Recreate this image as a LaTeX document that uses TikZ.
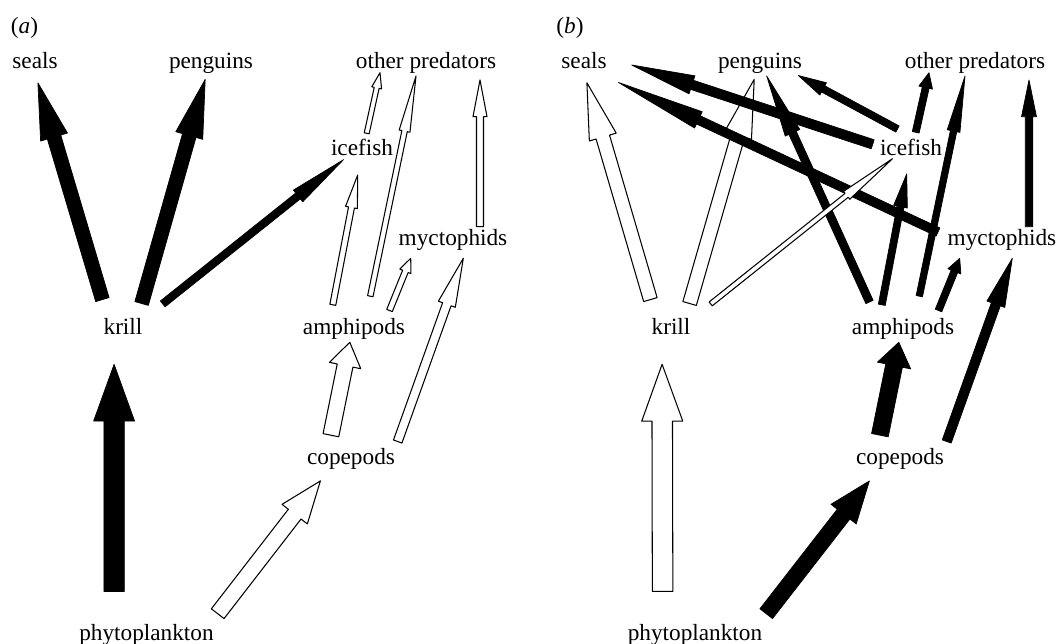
\documentclass[tikz,border=0pt]{standalone}
\usepackage{fontspec}
\setmainfont{Liberation Serif}
\usetikzlibrary{calc}

\begin{document}
\begin{tikzpicture}[x=0.43pt,y=-0.43pt]
\tikzset{species/.style={anchor=base,inner sep=0pt},
flow/.style={to path={let \p1=(\tikztostart), \p2=(\tikztotarget),
  \n1={atan2(\y2-\y1,\x2-\x1)}, \n2={0.75*veclen(\x2-\x1,\y2-\y1)},
  \n3={#1*0.215pt} in
  (\p1) -- ++(\n1+90:\n3) -- ++(\n1:\n2) -- ++(\n1+90:\n3) -- (\p2)
  -- ($(\p1)+(\n1:\n2)+(\n1-90:2*\n3)$) -- ++(\n1+90:\n3)
  -- ($(\p1)+(\n1-90:\n3)$) -- cycle}},
strong/.style={flow=#1,fill=black,draw=black,line width=0.3pt,line join=round},
weak/.style={flow=#1,fill=white,draw=black,line width=0.45pt,line join=round}}
\useasboundingbox (0,0) rectangle (1060,644);

\node[species] (tagA) at (24.5,34) {(\textit{a})};
\node[species] (sealsA) at (35,69) {seals};
\node[species] (penguinsA) at (211,69) {penguins};
\node[species] (otherA) at (426,69) {other predators};
\node[species] (icefishA) at (362,156) {icefish};
\node[species] (myctophidsA) at (453,246) {myctophids};
\node[species] (krillA) at (123,334) {krill};
\node[species] (amphipodsA) at (354,334) {amphipods};
\node[species] (copepodsA) at (351,464) {copepods};
\node[species] (phytoA) at (146.5,640) {phytoplankton};

\draw[strong=14] ($(krillA.base)+(-20.6,-34.4)$) to ($(sealsA.base)+(2.9,13.8)$);
\draw[strong=14] ($(krillA.base)+(18.6,-30.5)$) to ($(penguinsA.base)+(-5.8,10.4)$);
\draw[strong=7.5] ($(krillA.base)+(39.7,-30.1)$) to ($(icefishA.base)+(-18.5,3.7)$);
\draw[strong=20.5] ($(phytoA.base)+(-32.4,-48.6)$) to ($(krillA.base)+(-8.9,30.3)$);
\draw[weak=16] ($(phytoA.base)+(71.2,-26.3)$) to ($(copepodsA.base)+(-30.6,16.9)$);
\draw[weak=16] ($(copepodsA.base)+(-20.1,-28.8)$) to ($(amphipodsA.base)+(-4.2,8.3)$);
\draw[weak=9] ($(copepodsA.base)+(46.7,-22.5)$) to ($(myctophidsA.base)+(10.3,12.3)$);
\draw[weak=6] ($(amphipodsA.base)+(-21.2,-29.2)$) to ($(icefishA.base)+(-4.3,19)$);
\draw[weak=5.5] ($(amphipodsA.base)+(16.3,-37.8)$) to ($(otherA.base)+(-10,7)$);
\draw[weak=6] ($(amphipodsA.base)+(35.5,-23.5)$) to ($(myctophidsA.base)+(-42.3,12.3)$);
\draw[weak=5] ($(icefishA.base)+(4.7,-22.7)$) to ($(otherA.base)+(-46,3.7)$);
\draw[weak=7] ($(myctophidsA.base)+(27,-19.3)$) to ($(otherA.base)+(54,11)$);

\node[species] (tagB) at (570,34) {(\textit{b})};
\node[species] (sealsB) at (584,69) {seals};
\node[species] (penguinsB) at (760,69) {penguins};
\node[species] (otherB) at (975,69) {other predators};
\node[species] (icefishB) at (911,155) {icefish};
\node[species] (myctophidsB) at (1002,246) {myctophids};
\node[species] (krillB) at (671,334) {krill};
\node[species] (amphipodsB) at (903,334) {amphipods};
\node[species] (copepodsB) at (900,464) {copepods};
\node[species] (phytoB) at (695,640) {phytoplankton};

\draw[weak=14] ($(krillB.base)+(-20.6,-34.4)$) to ($(sealsB.base)+(2.9,13.8)$);
\draw[weak=14] ($(krillB.base)+(18.6,-30.5)$) to ($(penguinsB.base)+(-5.8,10.4)$);
\draw[weak=20.5] ($(phytoB.base)+(-32.4,-48.6)$) to ($(krillB.base)+(-8.9,30.3)$);
\draw[strong=16] ($(phytoB.base)+(71.2,-26.3)$) to ($(copepodsB.base)+(-30.6,16.9)$);
\draw[strong=17] ($(copepodsB.base)+(-20.1,-28.8)$) to ($(amphipodsB.base)+(-4.2,8.3)$);
\draw[strong=9.5] ($(copepodsB.base)+(46.7,-22.5)$) to ($(myctophidsB.base)+(10.3,12.3)$);
\draw[strong=9.5] ($(icefishB.base)+(-38.3,-10.7)$) to ($(sealsB.base)+(47.7,-4)$);
\draw[strong=9] ($(myctophidsB.base)+(-64,-14)$) to ($(sealsB.base)+(34.5,13.5)$);
\draw[strong=7] ($(icefishB.base)+(-13.5,-26)$) to ($(penguinsB.base)+(38.3,6.5)$);
\draw[strong=8] ($(amphipodsB.base)+(-33.5,-32)$) to ($(penguinsB.base)+(6.7,7)$);
\draw[weak=5] ($(krillB.base)+(39.7,-30.1)$) to ($(icefishB.base)+(-18.5,3.7)$);
\draw[strong=7] ($(amphipodsB.base)+(-21.2,-29.2)$) to ($(icefishB.base)+(-4.3,19)$);
\draw[strong=6.5] ($(amphipodsB.base)+(16.3,-37.8)$) to ($(otherB.base)+(-10,7)$);
\draw[strong=7] ($(amphipodsB.base)+(35.5,-23.5)$) to ($(myctophidsB.base)+(-42.3,12.3)$);
\draw[strong=7] ($(icefishB.base)+(4.7,-22.7)$) to ($(otherB.base)+(-46,3.7)$);
\draw[strong=7.5] ($(myctophidsB.base)+(27,-19.3)$) to ($(otherB.base)+(54,11)$);

\end{tikzpicture}
\end{document}
